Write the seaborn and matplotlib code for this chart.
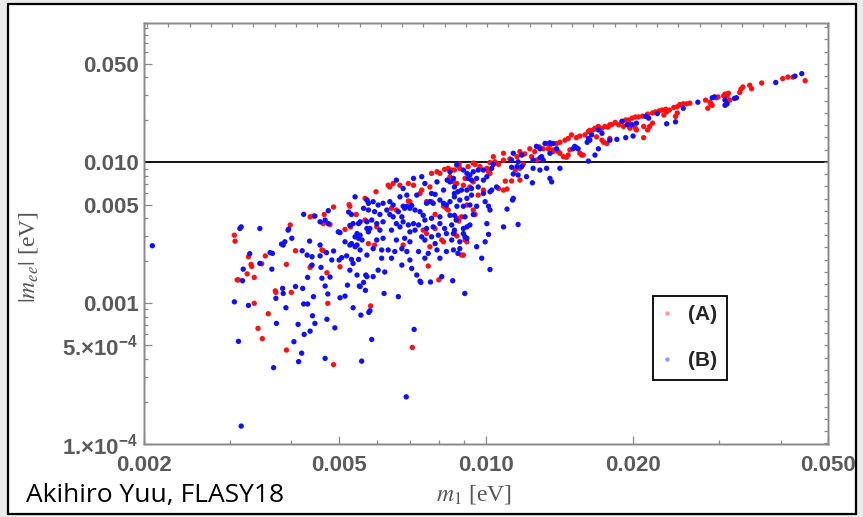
import numpy as np
import pandas as pd
import matplotlib
matplotlib.use("Agg")
import matplotlib.pyplot as plt
import seaborn as sns
from matplotlib.patches import Rectangle
from matplotlib.lines import Line2D
from matplotlib.ticker import FixedLocator, LogLocator, NullLocator, NullFormatter

# ---------------- data ----------------
# case (A): red points, (m1 [eV], |m_ee| [eV])
a_m1 = [0.00306, 0.00307, 0.00327, 0.00331, 0.00332, 0.00325, 0.00336, 0.00310, 0.00312, 0.00336, 0.00342,
        0.00525, 0.00527, 0.00488, 0.00543, 0.00467, 0.00437, 0.00444, 0.00465, 0.00480, 0.00398, 0.00515,
        0.00529, 0.00575, 0.00462, 0.00465, 0.00408, 0.00354, 0.00348, 0.00391, 0.00439, 0.00437, 0.00503,
        0.00473, 0.00371, 0.00372, 0.00400, 0.00475, 0.00359, 0.00349, 0.00391, 0.00488,
        0.00801, 0.00581, 0.00707,
        0.00774, 0.00794, 0.00805, 0.00823, 0.00837, 0.00851, 0.00872, 0.00881, 0.00646, 0.00636, 0.00631,
        0.00667, 0.00694, 0.00711, 0.00768, 0.00596, 0.00733, 0.00739, 0.00566, 0.00571, 0.00699, 0.00694,
        0.00756, 0.00774, 0.00787, 0.00819, 0.00830, 0.00656, 0.00641, 0.00880, 0.00837, 0.00566, 0.00598,
        0.00744, 0.00787, 0.00756, 0.00812, 0.00592, 0.00677, 0.00768, 0.00819, 0.00762,
        0.01035, 0.01086, 0.01119, 0.01157, 0.01173, 0.01200, 0.01229, 0.01258, 0.01285, 0.01309, 0.01330,
        0.01351, 0.01394, 0.01372, 0.01299, 0.01268, 0.01239, 0.01086, 0.01043, 0.01019, 0.01061,
        0.00862, 0.00884, 0.00919, 0.00942, 0.00950, 0.00972, 0.01004, 0.01012, 0.01019, 0.01148, 0.01173,
        0.01192, 0.01128, 0.01173, 0.01095, 0.01061, 0.01086, 0.01104, 0.00858, 0.00872, 0.00899, 0.00927,
        0.00942, 0.00844, 0.00906, 0.00964, 0.00988, 0.00914, 0.00942, 0.00950, 0.00876, 0.00891, 0.00862,
        0.00872, 0.00906, 0.00914, 0.00891, 0.00899,
        0.01416, 0.01450, 0.01472, 0.01495, 0.01530, 0.01555, 0.01593, 0.01619, 0.01630, 0.01656, 0.01670,
        0.01697, 0.01726, 0.01750, 0.01776, 0.01791, 0.01806, 0.01836, 0.01866, 0.01897, 0.01930, 0.01958,
        0.01990, 0.0202, 0.0205, 0.0209, 0.0214, 0.0219, 0.0222, 0.0226, 0.0229, 0.0233, 0.0237, 0.0242,
        0.0246, 0.0249, 0.0253, 0.0257, 0.0261,
        0.01341, 0.01372, 0.01405, 0.01416, 0.01439, 0.01461, 0.01472, 0.01484, 0.01555, 0.01568, 0.01580,
        0.01683, 0.01726, 0.01740, 0.01766, 0.01791, 0.01910, 0.01958, 0.01968, 0.0202, 0.0203, 0.0210,
        0.0214, 0.0216, 0.0219, 0.0210, 0.0231, 0.0234, 0.0244, 0.0246,
        0.0281, 0.0284, 0.0288, 0.0287, 0.0290, 0.0296, 0.0298, 0.0306, 0.0308, 0.0311, 0.0313, 0.0315,
        0.0330, 0.0332, 0.0335, 0.0346, 0.0349, 0.0366, 0.0404, 0.0414, 0.0424, 0.0449]
a_mee = [0.00303, 0.00275, 0.00213, 0.00188, 0.00182, 0.00161, 0.00152, 0.00146, 0.00146, 0.000996, 0.000661,
         0.00499, 0.00486, 0.00480, 0.00425, 0.00425, 0.00409, 0.00414, 0.00366, 0.00361, 0.00358, 0.00333,
         0.00347, 0.00264, 0.00238, 0.00235, 0.00235, 0.00216, 0.00190, 0.00188, 0.00183, 0.00179, 0.00181,
         0.00164, 0.00122, 0.00119, 0.00119, 0.000995, 0.000840, 0.000559, 0.000464, 0.000366,
         0.00146, 0.000954, 0.000484,
         0.00832, 0.00854, 0.00832, 0.00888, 0.00903, 0.00878, 0.00947, 0.00963, 0.00705, 0.00666, 0.00685,
         0.00685, 0.00705, 0.00685, 0.00666, 0.00616, 0.00599, 0.00633, 0.00553, 0.00538, 0.00524, 0.00530,
         0.00524, 0.00524, 0.00425, 0.00486, 0.00470, 0.00457, 0.00470, 0.00382, 0.00457, 0.00388, 0.00347,
         0.00329, 0.00338, 0.00311, 0.00280, 0.00258, 0.00258, 0.00251, 0.00272, 0.00183,
         0.01093, 0.01155, 0.01054, 0.01093, 0.01187, 0.01143, 0.01243, 0.01187, 0.01281, 0.01243, 0.01355,
         0.01318, 0.01355, 0.01187, 0.01071, 0.01033, 0.01093, 0.01033, 0.01005, 0.00993, 0.00963,
         0.00878, 0.00903, 0.00929, 0.00983, 0.00963, 0.00929, 0.00903, 0.00854, 0.00832, 0.00878, 0.00903,
         0.00963, 0.00735, 0.00745, 0.00733, 0.00650, 0.00633, 0.00644, 0.00724, 0.00705, 0.00685, 0.00666,
         0.00724, 0.00788, 0.00766, 0.00583, 0.00633, 0.00496, 0.00457, 0.00425, 0.00399, 0.00409, 0.00311,
         0.00299, 0.00280, 0.00272, 0.00219, 0.00219,
         0.01382, 0.01430, 0.01470, 0.01560, 0.01490, 0.01530, 0.01560, 0.01650, 0.01680, 0.01690, 0.01740,
         0.01790, 0.01740, 0.01790, 0.01770, 0.01840, 0.01840, 0.01910, 0.01840, 0.01930, 0.01990, 0.01990,
         0.0205, 0.0209, 0.0209, 0.0212, 0.0219, 0.0223, 0.0227, 0.0231, 0.0234, 0.0237, 0.0234, 0.0244,
         0.0247, 0.0256, 0.0259, 0.0259, 0.0262,
         0.01243, 0.01220, 0.01187, 0.01155, 0.01093, 0.01082, 0.01122, 0.01220, 0.01155, 0.01122, 0.01122,
         0.01510, 0.01430, 0.01382, 0.01355, 0.01470, 0.01790, 0.01890, 0.01740, 0.01740, 0.01690, 0.01790,
         0.01690, 0.01790, 0.01890, 0.01490, 0.0216, 0.0227, 0.0211, 0.0223,
         0.0275, 0.0241, 0.0259, 0.0266, 0.0253, 0.0286, 0.0290, 0.0295, 0.0304, 0.0295, 0.0308, 0.0275,
         0.0312, 0.0329, 0.0341, 0.0351, 0.0332, 0.0364, 0.0391, 0.0401, 0.0401, 0.0378]

# case (B): blue points
b_m1 = [0.00208, 0.00314, 0.00316, 0.00345, 0.00329, 0.00345, 0.00319, 0.00318, 0.00306, 0.00327, 0.00312, 0.00316,
        0.00540, 0.00571, 0.00575, 0.00524, 0.00531, 0.00476, 0.00424, 0.00447, 0.00458, 0.00469, 0.00476,
        0.00395, 0.00394, 0.00527, 0.00535, 0.00549, 0.00553, 0.00499, 0.00503, 0.00545, 0.00553, 0.00540,
        0.00549, 0.00558, 0.00571, 0.00575, 0.00401, 0.00388, 0.00385, 0.00382, 0.00436, 0.00515, 0.00531,
        0.00527, 0.00545, 0.00540, 0.00458, 0.00472, 0.00488, 0.00421, 0.00431, 0.00362, 0.00366, 0.00441,
        0.00458, 0.00484, 0.00501, 0.00507, 0.00519, 0.00531, 0.00549, 0.00571, 0.00441, 0.00460, 0.00527,
        0.00535, 0.00365, 0.00545, 0.00568, 0.00571, 0.00432, 0.00462, 0.00480, 0.00521, 0.00551, 0.00469,
        0.00408, 0.00422, 0.00384, 0.00385, 0.00475, 0.00372, 0.00444, 0.00503, 0.00515, 0.00390, 0.00424,
        0.00432, 0.00535, 0.00442, 0.00473, 0.00373, 0.00413, 0.00447, 0.00491, 0.00437, 0.00425, 0.00405,
        0.00420, 0.00469, 0.00414, 0.00368,
        0.00562, 0.00553, 0.00733, 0.00736, 0.00770, 0.00855, 0.00567, 0.00619, 0.00662, 0.00905, 0.00579,
        0.00576, 0.00555, 0.00713, 0.00584, 0.00557, 0.00687,
        0.00833, 0.00844, 0.00858, 0.00656, 0.00711, 0.00739, 0.00750, 0.00794, 0.00819, 0.00862, 0.00677,
        0.00689, 0.00667, 0.00722, 0.00774, 0.00787, 0.00588, 0.00602, 0.00616, 0.00636, 0.00646, 0.00677,
        0.00682, 0.00689, 0.00699, 0.00705, 0.00716, 0.00733, 0.00756, 0.00768, 0.00780, 0.00805, 0.00819,
        0.00830, 0.00844, 0.00562, 0.00575, 0.00592, 0.00607, 0.00627, 0.00636, 0.00646, 0.00662, 0.00673,
        0.00744, 0.00750, 0.00774, 0.00805, 0.00844, 0.00862, 0.00869, 0.00571, 0.00584, 0.00598, 0.00616,
        0.00656, 0.00677, 0.00694, 0.00711, 0.00728, 0.00756, 0.00780, 0.00805, 0.00823, 0.00851, 0.00579,
        0.00607, 0.00641, 0.00667, 0.00699, 0.00716, 0.00739, 0.00774, 0.00799, 0.00830, 0.00858, 0.00598,
        0.00616, 0.00656, 0.00682, 0.00699, 0.00750, 0.00787, 0.00851, 0.00553, 0.00588, 0.00612, 0.00631,
        0.00651, 0.00673, 0.00689, 0.00728, 0.00762, 0.00794, 0.00830, 0.00612, 0.00641, 0.00699, 0.00750,
        0.00805, 0.00673, 0.00705, 0.00602, 0.00621, 0.00588, 0.00722, 0.00812,
        0.01137, 0.01183, 0.01268, 0.01289, 0.01351, 0.01394, 0.01128, 0.01163, 0.01248, 0.00844, 0.00872,
        0.00899, 0.00914, 0.00927, 0.00942, 0.00964, 0.00988, 0.01027, 0.01035, 0.01128, 0.01157, 0.01183,
        0.01248, 0.01289, 0.01330, 0.01137, 0.01163, 0.01210, 0.01244, 0.01351, 0.01362, 0.01051, 0.01027,
        0.00988, 0.01004, 0.00919, 0.00934, 0.00957, 0.00862, 0.00876, 0.00891, 0.00914, 0.00934, 0.00964,
        0.00862, 0.00884, 0.00914, 0.00934, 0.00988, 0.01019, 0.01137, 0.01133, 0.00996, 0.00872, 0.00899,
        0.00927, 0.00957, 0.01012, 0.00906, 0.00942, 0.01019, 0.01104, 0.00862, 0.00899, 0.00914, 0.00927,
        0.01004, 0.01086, 0.01163, 0.00899, 0.01012, 0.00884, 0.00914, 0.00996, 0.00906, 0.00884, 0.00957,
        0.00858, 0.00980, 0.00876, 0.01416, 0.01019,
        0.01320, 0.01351, 0.01372, 0.01506, 0.01518, 0.01530, 0.01543, 0.01610, 0.01619, 0.01630, 0.01644,
        0.01697, 0.01726, 0.01791, 0.01851, 0.01930, 0.01998, 0.01897, 0.01944, 0.01990, 0.0203, 0.0212,
        0.0215, 0.0224, 0.0234, 0.0244, 0.0253, 0.0271, 0.01289, 0.01299, 0.01309, 0.01697, 0.01670, 0.01619,
        0.0290, 0.0293, 0.0308, 0.0311, 0.0308, 0.0322, 0.0325, 0.0391, 0.0428, 0.0442]
b_mee = [0.00255, 0.00338, 0.00347, 0.00338, 0.00224, 0.00191, 0.00174, 0.00144, 0.00102, 0.000962, 0.000535, 0.000134,
         0.00567, 0.00538, 0.00510, 0.00442, 0.00425, 0.00452, 0.00426, 0.00414, 0.00377, 0.00388, 0.00366,
         0.00334, 0.00329, 0.00355, 0.00366, 0.00366, 0.00377, 0.00320, 0.00316, 0.00311, 0.00303, 0.00295,
         0.00288, 0.00280, 0.00338, 0.00320, 0.00288, 0.00272, 0.00258, 0.00262, 0.00275, 0.00272, 0.00264,
         0.00258, 0.00258, 0.00251, 0.00258, 0.00228, 0.00234, 0.00235, 0.00219, 0.00228, 0.00225, 0.00213,
         0.00216, 0.00202, 0.00202, 0.00210, 0.00216, 0.00204, 0.00204, 0.00219, 0.00186, 0.00179, 0.00171,
         0.00191, 0.00174, 0.00158, 0.00158, 0.00154, 0.00152, 0.00150, 0.00153, 0.00134, 0.00132, 0.00132,
         0.00131, 0.00127, 0.00127, 0.00117, 0.00116, 0.00108, 0.00111, 0.00109, 0.00112, 0.000926, 0.000985,
         0.000985, 0.000926, 0.000812, 0.000767, 0.000717, 0.000706, 0.000717, 0.000667, 0.000632, 0.000599, 0.000532,
         0.000441, 0.000405, 0.000384, 0.000348,
         0.00140, 0.00131, 0.00143, 0.00140, 0.00141, 0.00144, 0.00123, 0.00117, 0.00111, 0.00117, 0.000882,
         0.000859, 0.000821, 0.000650, 0.000552, 0.000387, 0.000216,
         0.00745, 0.00724, 0.00766, 0.00745, 0.00766, 0.00788, 0.00705, 0.00724, 0.00633, 0.00666, 0.00650,
         0.00583, 0.00567, 0.00583, 0.00599, 0.00590, 0.00524, 0.00496, 0.00510, 0.00524, 0.00496, 0.00486,
         0.00470, 0.00486, 0.00470, 0.00492, 0.00457, 0.00445, 0.00510, 0.00524, 0.00510, 0.00538, 0.00510,
         0.00496, 0.00524, 0.00470, 0.00457, 0.00445, 0.00425, 0.00457, 0.00425, 0.00409, 0.00445, 0.00409,
         0.00419, 0.00388, 0.00399, 0.00409, 0.00419, 0.00419, 0.00388, 0.00377, 0.00388, 0.00366, 0.00377,
         0.00366, 0.00377, 0.00358, 0.00366, 0.00358, 0.00338, 0.00347, 0.00366, 0.00338, 0.00358, 0.00338,
         0.00329, 0.00329, 0.00347, 0.00320, 0.00329, 0.00295, 0.00295, 0.00303, 0.00311, 0.00311, 0.00280,
         0.00288, 0.00280, 0.00288, 0.00272, 0.00280, 0.00264, 0.00280, 0.00238, 0.00243, 0.00238, 0.00238,
         0.00232, 0.00243, 0.00232, 0.00232, 0.00225, 0.00238, 0.00232, 0.00208, 0.00208, 0.00202, 0.00208,
         0.00208, 0.00186, 0.00176, 0.00171, 0.00166, 0.00154, 0.00158, 0.00154,
         0.01155, 0.01122, 0.01293, 0.01243, 0.01155, 0.01243, 0.01033, 0.01005, 0.01033, 0.00854, 0.00963,
         0.00878, 0.00832, 0.00810, 0.00854, 0.00878, 0.00878, 0.00903, 0.00963, 0.00919, 0.00929, 0.00929,
         0.00903, 0.00878, 0.00903, 0.00823, 0.00810, 0.00788, 0.00713, 0.00766, 0.00724, 0.00666, 0.00633,
         0.00745, 0.00788, 0.00766, 0.00745, 0.00766, 0.00599, 0.00616, 0.00633, 0.00633, 0.00650, 0.00666,
         0.00567, 0.00538, 0.00553, 0.00583, 0.00599, 0.00616, 0.00553, 0.00538, 0.00524, 0.00486, 0.00486,
         0.00496, 0.00486, 0.00486, 0.00409, 0.00425, 0.00457, 0.00464, 0.00329, 0.00338, 0.00347, 0.00358,
         0.00366, 0.00347, 0.00361, 0.00311, 0.00307, 0.00272, 0.00288, 0.00272, 0.00295, 0.00243, 0.00251,
         0.00238, 0.00208, 0.00225, 0.00903, 0.00173,
         0.01355, 0.01370, 0.01355, 0.01243, 0.01293, 0.01265, 0.01243, 0.01382, 0.01470, 0.01430, 0.01560,
         0.01690, 0.01600, 0.01430, 0.01450, 0.01490, 0.01530, 0.01950, 0.01840, 0.01840, 0.01890, 0.0211,
         0.0205, 0.0221, 0.01870, 0.01930, 0.0241, 0.0266, 0.01071, 0.01093, 0.01033, 0.01243, 0.01122, 0.01016,
         0.0286, 0.0290, 0.0275, 0.0259, 0.0253, 0.0283, 0.0286, 0.0367, 0.0407, 0.0424]

cases = ["(A)", "(B)"]
x_ticks = [0.002, 0.005, 0.010, 0.020, 0.050]
x_tick_labels = ["0.002", "0.005", "0.010", "0.020", "0.050"]
y_ticks = [1e-4, 5e-4, 0.001, 0.005, 0.010, 0.050]
y_tick_labels = ["1.\u00d710$^{-4}$", "5.\u00d710$^{-4}$", "0.001", "0.005", "0.010", "0.050"]
ref_level = 0.010

# ---------------- style ----------------
sns.set_style("ticks")
plt.rcParams["font.family"] = ["Liberation Sans", "DejaVu Sans"]
plt.rcParams["mathtext.fontset"] = "custom"
plt.rcParams["mathtext.rm"] = "Liberation Sans:bold"
plt.rcParams["mathtext.it"] = "Liberation Sans:bold:italic"
plt.rcParams["mathtext.bf"] = "Liberation Sans:bold"
plt.rcParams["axes.edgecolor"] = "#8a8a8a"

W, H = 863, 517
fig = plt.figure(figsize=(W / 100, H / 100), dpi=100)
fig.patch.set_facecolor("#ebebeb")
fig.add_artist(Rectangle((8 / W, (H - 514) / H), (856 - 8) / W, (514 - 4) / H,
                         transform=fig.transFigure, facecolor="white",
                         edgecolor="black", linewidth=1.6, zorder=-5))

ax = fig.add_axes([144 / W, (H - 444) / H, 684 / W, 421 / H])

df = pd.DataFrame({
    "m1": a_m1 + b_m1,
    "mee": a_mee + b_mee,
    "case": [cases[0]] * len(a_m1) + [cases[1]] * len(b_m1),
})
sns.scatterplot(data=df, x="m1", y="mee", hue="case",
                palette={"(A)": "#ff1010", "(B)": "#1010ff"},
                s=15, linewidth=0, ax=ax, legend=False, zorder=3)

ax.set_xscale("log")
ax.set_yscale("log")
ax.set_xlim(0.002, 0.050)
ax.set_ylim(1e-4, 0.097)
ax.axhline(ref_level, color="black", lw=1.3, zorder=2)
ax.set_xlabel("")
ax.set_ylabel("")

ax.xaxis.set_major_locator(FixedLocator(x_ticks))
ax.set_xticklabels(x_tick_labels, fontweight="bold")
ax.xaxis.set_minor_locator(LogLocator(base=10, subs=np.arange(2, 10)))
ax.xaxis.set_minor_formatter(NullFormatter())
ax.yaxis.set_major_locator(FixedLocator(y_ticks))
ax.set_yticklabels(y_tick_labels, fontweight="bold")
ax.yaxis.set_minor_locator(LogLocator(base=10, subs=np.arange(2, 10)))
ax.yaxis.set_minor_formatter(NullFormatter())

ax.tick_params(which="both", direction="in", color="#8a8a8a", width=0.9,
               labelcolor="#5a5a5a", labelsize=16, top=False, right=False)
ax.tick_params(which="major", length=5.5)
ax.tick_params(which="minor", length=3)
ax.tick_params(axis="y", pad=4)
ax.tick_params(axis="x", pad=8)
for sp in ax.spines.values():
    sp.set_color("#8a8a8a")
    sp.set_linewidth(1.0)
    sp.set_visible(True)

# top / right frame ticks (evenly spaced in log)
axt = ax.twiny()
axt.set_xscale("log")
axt.set_xlim(ax.get_xlim())
axt.xaxis.set_major_locator(FixedLocator(np.exp(np.arange(-6.2, -2.95, 0.1))))
axt.xaxis.set_minor_locator(NullLocator())
axt.tick_params(axis="x", direction="in", length=3, width=0.9, color="#8a8a8a",
                labeltop=False, labelbottom=False, top=True, bottom=False)
axr = ax.twinx()
axr.set_yscale("log")
axr.set_ylim(ax.get_ylim())
axr.yaxis.set_major_locator(FixedLocator(np.exp(np.arange(-9.2, -2.3, 0.2))))
axr.yaxis.set_minor_locator(NullLocator())
axr.tick_params(axis="y", direction="in", length=3, width=0.9, color="#8a8a8a",
                labelright=False, labelleft=False, right=True, left=False)
for a in (axt, axr):
    for sp in a.spines.values():
        sp.set_color("#8a8a8a")
        sp.set_linewidth(1.0)

# legend
handles = [Line2D([], [], marker="o", ls="", color="#ff9a9a", markersize=2.2),
           Line2D([], [], marker="o", ls="", color="#9a9aff", markersize=2.2)]
leg = axr.legend(handles, cases, loc="upper left", bbox_to_anchor=(0.744, 0.3515),
                 frameon=True, fancybox=False, edgecolor="black", framealpha=1,
                 prop={"weight": "bold", "size": 15, "family": "Liberation Sans"},
                 borderpad=0.45, labelspacing=1.3, handlelength=0.5,
                 handletextpad=0.75, borderaxespad=0)
leg.get_frame().set_linewidth(1.3)

# axis labels
fig.text(28 / W, 1 - 257 / H, r"$|m_{ee}|$ [eV]", rotation=90, fontsize=17,
         family="Liberation Serif", math_fontfamily="stix", color="#555555",
         ha="center", va="center")
fig.text(474 / W, 1 - 501 / H, r"$m_1$ [eV]", fontsize=17,
         family="Liberation Serif", math_fontfamily="stix", color="#555555",
         ha="center", va="baseline")

fig.text(26 / W, 1 - 502 / H, "Akihiro Yuu, FLASY18", fontsize=19,
         family="Open Sans", color="black", ha="left", va="baseline")

fig.savefig("out.png", dpi=100, facecolor=fig.get_facecolor())
